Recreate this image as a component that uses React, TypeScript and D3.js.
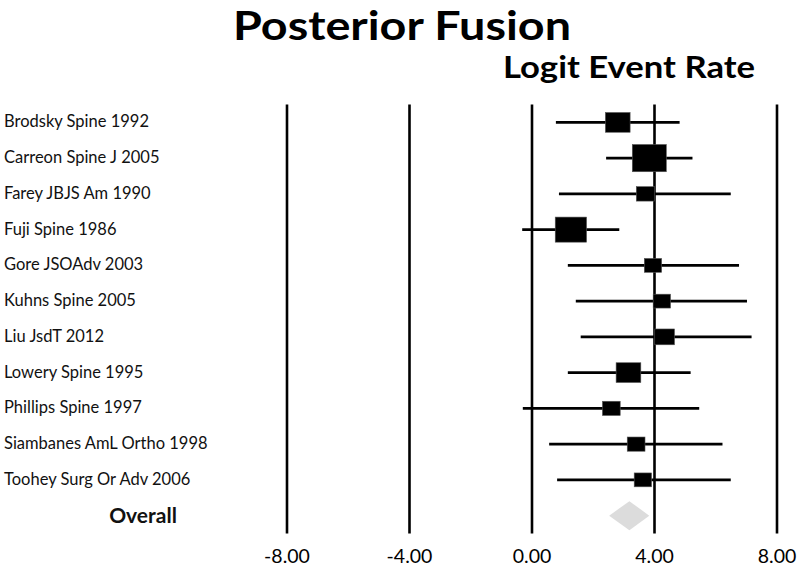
import React, { useRef, useEffect } from 'react';
import * as d3 from 'd3';

// study rows, top to bottom
const studies = [
  'Brodsky Spine 1992',
  'Carreon Spine J 2005',
  'Farey JBJS Am 1990',
  'Fuji Spine 1986',
  'Gore JSOAdv 2003',
  'Kuhns Spine 2005',
  'Liu JsdT 2012',
  'Lowery Spine 1995',
  'Phillips Spine 1997',
  'Siambanes AmL Ortho 1998',
  'Toohey Surg Or Adv 2006',
];
// logit event rate with lower / upper limits
const pointEst = [2.80, 3.83, 3.70, 1.27, 3.95, 4.24, 4.33, 3.15, 2.59, 3.40, 3.62];
const lowerCI = [0.78, 2.42, 0.88, -0.32, 1.17, 1.43, 1.59, 1.17, -0.30, 0.56, 0.82];
const upperCI = [4.82, 5.24, 6.49, 2.85, 6.76, 7.02, 7.17, 5.18, 5.46, 6.22, 6.49];
// relative weight (%) -> marker size
const weights = [12.2, 23.1, 6.5, 19.6, 6.0, 6.0, 7.8, 12.2, 6.3, 6.3, 6.0];

const overallLabel = 'Overall';
const overall = { est: 3.18, lower: 2.52, upper: 3.83 };

const xTicks = [-8, -4, 0, 4, 8];
const xTickLabels = ['-8.00', '-4.00', '0.00', '4.00', '8.00'];

const App: React.FC = () => {
  const svgRef = useRef<SVGSVGElement>(null);

  useEffect(() => {
    if (!svgRef.current) return;
    const width = 800;
    const height = 568;
    const svg = d3.select(svgRef.current).attr('width', width).attr('height', height);
    svg.selectAll('*').remove();

    const font = 'Lato, "Open Sans", sans-serif';

    //scales
    const xScale = d3.scaleLinear().domain([-8, 8]).range([287, 777]);
    const rows = [...studies, overallLabel];
    const yScale = d3.scaleBand<string>().domain(rows).range([104.5, 533.5]);
    const yMid = (d: string) => (yScale(d) as number) + yScale.bandwidth() / 2;
    const sizeScale = d3.scaleSqrt().domain([0, d3.max(weights) as number]).range([0, 34]);

    //titles
    svg.append('text')
      .attr('x', 233).attr('y', 40)
      .attr('font-family', font).attr('font-weight', 'bold').attr('font-size', 40)
      .attr('textLength', 338).attr('lengthAdjust', 'spacingAndGlyphs')
      .attr('fill', '#000')
      .text('Posterior Fusion');
    svg.append('text')
      .attr('x', 503).attr('y', 78)
      .attr('font-family', font).attr('font-weight', 'bold').attr('font-size', 30)
      .attr('textLength', 252).attr('lengthAdjust', 'spacingAndGlyphs')
      .attr('fill', '#000')
      .text('Logit Event Rate');

    //vertical reference lines
    const [y0, y1] = yScale.range();
    svg.append('g').selectAll('line')
      .data(xTicks).join('line')
      .attr('x1', d => xScale(d)).attr('x2', d => xScale(d))
      .attr('y1', y0).attr('y2', y1)
      .attr('stroke', '#000').attr('stroke-width', 2.6);

    //tick labels
    svg.append('g').selectAll('text')
      .data(xTicks).join('text')
      .attr('x', d => xScale(d)).attr('y', 563)
      .attr('text-anchor', 'middle')
      .attr('font-family', font).attr('font-size', 19.5)
      .attr('fill', '#000')
      .text((_, i) => xTickLabels[i]);

    //study labels
    svg.append('g').selectAll('text')
      .data(studies).join('text')
      .attr('x', 4).attr('y', d => yMid(d))
      .attr('dy', '0.3em')
      .attr('font-family', font).attr('font-size', 16.5)
      .attr('fill', '#111')
      .text(d => d);

    svg.append('text')
      .attr('x', 143).attr('y', yMid(overallLabel))
      .attr('dy', '0.36em')
      .attr('text-anchor', 'middle')
      .attr('font-family', font).attr('font-weight', 'bold').attr('font-size', 21)
      .attr('fill', '#111')
      .text(overallLabel);

    //confidence intervals
    const ci = svg.append('g');
    ci.selectAll('line')
      .data(studies).join('line')
      .attr('x1', (_, i) => xScale(lowerCI[i]))
      .attr('x2', (_, i) => xScale(upperCI[i]))
      .attr('y1', d => yMid(d)).attr('y2', d => yMid(d))
      .attr('stroke', '#000').attr('stroke-width', 2.6);

    //weighted squares
    ci.selectAll('rect')
      .data(studies).join('rect')
      .attr('x', (_, i) => xScale(pointEst[i]) - sizeScale(weights[i]) / 2)
      .attr('y', (d, i) => yMid(d) - sizeScale(weights[i]) * 0.4)
      .attr('width', (_, i) => sizeScale(weights[i]))
      .attr('height', (_, i) => sizeScale(weights[i]) * 0.8)
      .attr('fill', '#000')
      .attr('stroke', '#555').attr('stroke-width', 0.6);

    //overall diamond
    const oy = yMid(overallLabel);
    const dh = 14.5;
    const diamond = d3.path();
    diamond.moveTo(xScale(overall.lower), oy);
    diamond.lineTo(xScale(overall.est), oy - dh);
    diamond.lineTo(xScale(overall.upper), oy);
    diamond.lineTo(xScale(overall.est), oy + dh);
    diamond.closePath();
    svg.append('path')
      .attr('d', diamond.toString())
      .attr('fill', '#dcdcdc');
  }, []);

  return (
    <div style={{ position: 'absolute', left: 0, top: 0 }}>
      <svg ref={svgRef} style={{ display: 'block', background: '#fff' }} />
    </div>
  );
};

export default App;
